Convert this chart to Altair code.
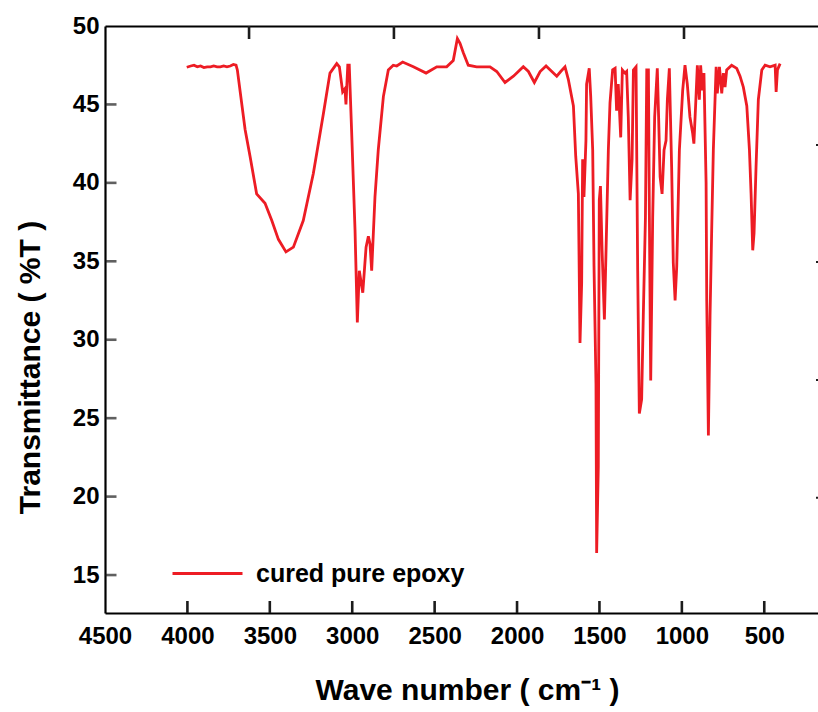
import altair as alt
import pandas as pd

# wavenumber (cm^-1) and transmittance (%T)
wavenumber = [4004, 3980, 3960, 3940, 3920, 3900, 3880, 3860, 3840, 3820, 3800, 3780, 3760, 3740,
              3721, 3705, 3697, 3650, 3620, 3580, 3529, 3488, 3448, 3402, 3357, 3297, 3236, 3175,
              3135, 3094, 3078, 3058, 3044, 3038, 3027, 3018, 3004, 2983, 2969, 2957, 2936, 2916,
              2902, 2892, 2882, 2862, 2842, 2811, 2781, 2751, 2730, 2694, 2629, 2552, 2487, 2427,
              2387, 2362, 2346, 2326, 2296, 2245, 2164, 2123, 2073, 2022, 1962, 1931, 1895, 1860,
              1824, 1789, 1759, 1735, 1709, 1689, 1658, 1644, 1628, 1618, 1608, 1602, 1594, 1582,
              1578, 1562, 1553, 1541, 1533, 1521, 1517, 1507, 1501, 1494, 1484, 1470, 1460, 1446,
              1436, 1420, 1405, 1396, 1386, 1371, 1361, 1345, 1335, 1325, 1314, 1302, 1294, 1278,
              1268, 1258, 1244, 1234, 1221, 1213, 1203, 1197, 1189, 1177, 1165, 1149, 1141, 1132,
              1120, 1108, 1096, 1088, 1076, 1062, 1052, 1041, 1031, 1015, 995, 981, 967, 951,
              935, 927, 915, 906, 894, 886, 876, 866, 853, 849, 839, 829, 819, 809,
              792, 785, 772, 758, 748, 738, 728, 698, 667, 647, 627, 606, 590, 580,
              570, 562, 550, 536, 515, 495, 465, 434, 428, 420, 404]
transmittance = [47.37, 47.45, 47.5, 47.4, 47.45, 47.35, 47.4, 47.4, 47.45, 47.4, 47.4, 47.45, 47.4, 47.45,
                 47.55, 47.5, 47.2, 43.4, 41.7, 39.3, 38.7, 37.6, 36.4, 35.6, 35.9, 37.6, 40.6, 44.4,
                 47.0, 47.6, 47.4, 45.8, 46.0, 45.0, 47.5, 47.5, 43.4, 37.0, 31.1, 34.4, 33.0, 35.9,
                 36.6, 36.1, 34.4, 39.1, 42.1, 45.5, 47.2, 47.5, 47.45, 47.7, 47.4, 47.0, 47.4, 47.4,
                 47.8, 49.2, 48.9, 48.3, 47.5, 47.4, 47.4, 47.1, 46.4, 46.8, 47.4, 47.1, 46.4, 47.1,
                 47.45, 47.1, 46.8, 47.1, 47.4, 46.6, 44.9, 41.7, 39.3, 29.8, 33.6, 41.5, 39.1, 42.7,
                 46.3, 47.3, 45.5, 42.1, 34.7, 27.2, 16.4, 21.9, 38.9, 39.8, 35.7, 31.3, 35.7, 42.1,
                 45.1, 47.2, 47.3, 44.6, 46.3, 42.9, 47.2, 47.0, 47.1, 44.2, 38.9, 41.5, 47.2, 47.4,
                 34.4, 25.3, 26.2, 31.5, 37.8, 47.2, 47.2, 37.8, 27.4, 37.8, 44.2, 47.3, 44.2, 40.4,
                 39.3, 42.1, 42.7, 45.3, 47.3, 41.0, 34.9, 32.5, 34.7, 42.1, 45.9, 47.5, 46.3, 44.2,
                 43.2, 42.5, 45.3, 47.5, 45.3, 47.5, 45.9, 47.0, 40.0, 32.5, 23.9, 31.5, 37.0, 42.1,
                 47.4, 45.7, 47.4, 45.7, 47.0, 46.1, 47.2, 47.5, 47.3, 46.8, 46.1, 44.9, 42.1, 39.3,
                 35.7, 36.8, 41.0, 45.3, 47.2, 47.5, 47.4, 47.5, 45.8, 47.2, 47.6]
series_name = "cured pure epoxy"

x_ticks = [4500, 4000, 3500, 3000, 2500, 2000, 1500, 1000, 500]
y_ticks = [15, 20, 25, 30, 35, 40, 45, 50]
top_ticks = [3626, 2747, 1867, 987]
right_ticks = [42.42, 34.96, 27.44, 19.92]

df = pd.DataFrame({"wn": wavenumber, "T": transmittance, "series": series_name})
df_xt = pd.DataFrame({"xv": [float(v) for v in x_ticks[1:]]})
df_yt = pd.DataFrame({"yv": [float(v) for v in y_ticks[:-1]]})
df_tt = pd.DataFrame({"tv": [float(v) for v in top_ticks]})
df_rt = pd.DataFrame({"rv": right_ticks})

W, H = 713, 587
FONT = "Liberation Sans"
RED = "#ED1C24"
INK = "#000000"
TICK = "#1c1c1c"

xscale = alt.Scale(domain=[4500, 174], nice=False, zero=False)
yscale = alt.Scale(domain=[12.58, 50], nice=False, zero=False)

main = alt.Chart(df).mark_line(strokeWidth=2.8, interpolate="linear").encode(
    x=alt.X("wn:Q", scale=xscale,
            axis=alt.Axis(orient="bottom", values=x_ticks, ticks=False, domain=True,
                          domainColor=INK, domainWidth=2.2, grid=False,
                          labelFont=FONT, labelFontWeight="bold", labelFontSize=24,
                          labelColor=INK, labelPadding=11, labelFlush=False,
                          labelOverlap=False, format="d",
                          title="Wave number ( cm⁻¹ )", titleFont=FONT, titleFontWeight="bold",
                          titleFontSize=30, titleColor=INK, titleX=362, titleY=77,
                          titleBaseline="middle", titleAlign="center")),
    y=alt.Y("T:Q", scale=yscale,
            axis=alt.Axis(orient="left", values=y_ticks, ticks=False, domain=True,
                          domainColor=INK, domainWidth=2.2, grid=False,
                          labelFont=FONT, labelFontWeight="bold", labelFontSize=24,
                          labelColor=INK, labelPadding=6, labelOverlap=False,
                          labelBaseline="middle",
                          title="Transmittance ( %T )", titleFont=FONT, titleFontWeight="bold",
                          titleFontSize=30, titleColor=INK, titleX=-75, titleY=341,
                          titleBaseline="middle", titleAlign="center", titleAngle=270)),
    color=alt.Color("series:N", scale=alt.Scale(range=[RED]),
                    legend=alt.Legend(orient="none", legendX=66, legendY=511, title=None,
                                      symbolType="stroke", symbolSize=4900,
                                      symbolStrokeWidth=3, symbolStrokeColor=RED,
                                      labelFont=FONT, labelFontWeight="bold",
                                      labelFontSize=25, labelColor=INK, labelOffset=12,
                                      labelLimit=0)),
)

top_frame = alt.Chart(df).mark_line(opacity=0).encode(
    x=alt.X("wn:Q", scale=xscale,
            axis=alt.Axis(orient="top", labels=False, domain=True, domainColor=INK,
                          domainWidth=2.2, ticks=False, grid=False, title=None)),
    y=alt.Y("T:Q", scale=yscale, axis=None),
)

bottom_ticks = alt.Chart(df_xt).mark_rule(color=TICK, strokeWidth=2.6).encode(
    x=alt.X("xv:Q", scale=xscale, axis=None),
    y=alt.value(H - 12), y2=alt.value(H),
)
left_ticks = alt.Chart(df_yt).mark_tick(color=TICK, thickness=2.6, size=11,
                                        orient="horizontal").encode(
    y=alt.Y("yv:Q", scale=yscale, axis=None),
    x=alt.value(6),
)
upper_ticks = alt.Chart(df_tt).mark_rule(color=TICK, strokeWidth=2.6).encode(
    x=alt.X("tv:Q", scale=xscale, axis=None),
    y=alt.value(0), y2=alt.value(13),
)
edge_ticks = alt.Chart(df_rt).mark_rule(color=TICK, strokeWidth=2).encode(
    y=alt.Y("rv:Q", scale=yscale, axis=None),
    x=alt.value(W - 2), x2=alt.value(W),
)

chart = alt.layer(main, top_frame, bottom_ticks, left_ticks, upper_ticks, edge_ticks).resolve_axis(
    x="independent", y="independent"
).properties(
    width=W, height=H,
    autosize=alt.AutoSizeParams(type="none"),
    padding={"left": 105, "top": 26, "right": 0, "bottom": 99},
    background="white",
).configure_view(strokeWidth=0)

chart.save("out.html", embed_options={"renderer": "svg", "actions": False})
